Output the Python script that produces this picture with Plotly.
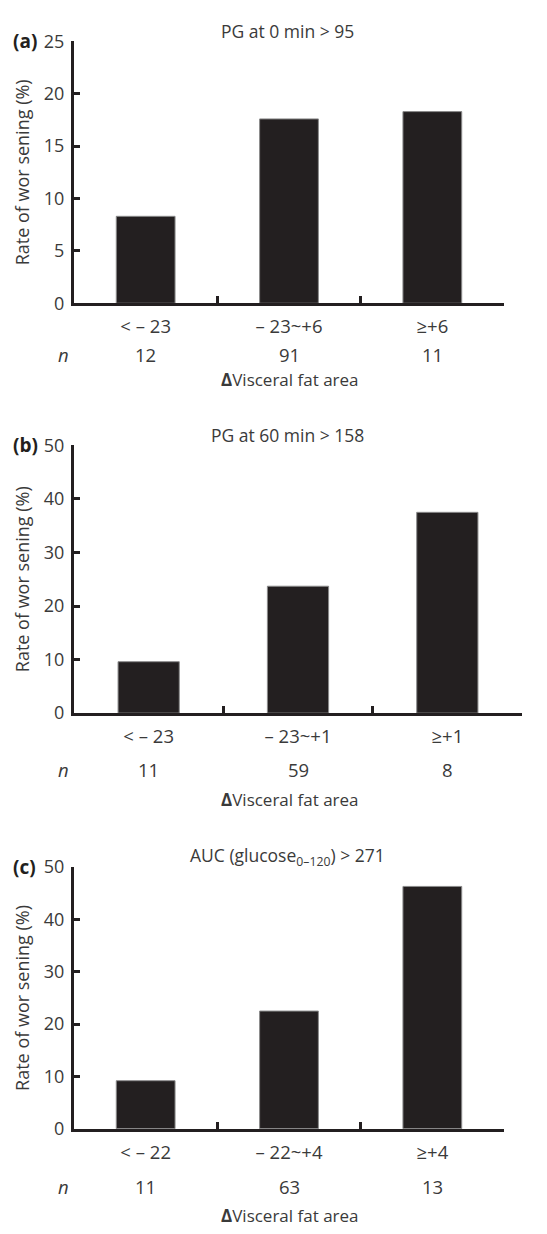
import plotly.graph_objects as go

W, H = 547, 1234

# ---- data ----
titles = ["PG at 0 min > 95", "PG at 60 min > 158", "AUC (glucose<sub>0–120</sub>) > 271"]
panel_labels = ["(a)", "(b)", "(c)"]
cats_a = ["< – 23", "– 23~+6", "≥+6"]
cats_b = ["< – 23", "– 23~+1", "≥+1"]
cats_c = ["< – 22", "– 22~+4", "≥+4"]
vals_a = [8.3, 17.6, 18.3]
vals_b = [9.6, 23.7, 37.5]
vals_c = [9.2, 22.5, 46.3]
n_a = ["12", "91", "11"]
n_b = ["11", "59", "8"]
n_c = ["11", "63", "13"]
ymax = [25, 50, 50]
ytick_step = [5, 10, 10]
ylabel = "Rate of wor sening (%)"
xlabel = "<b>Δ</b>Visceral fat area"

cats = [cats_a, cats_b, cats_c]
vals = [vals_a, vals_b, vals_c]
ns = [n_a, n_b, n_c]

# layout geometry in pixels (top, bottom, left, right)
geom = [(29, 296, 74, 504), (441, 714, 74, 522), (871, 1138, 74, 504)]
# pixel y positions for title, n row, x-title
rows = [(18, 348, 374), (430, 772, 802), (860, 1197, 1226)]

def py(p):
    return 1 - p / H

def px(p):
    return p / W

FONT = "Open Sans"
TXT = "#3a3a3a"
INK = "#231f20"

fig = go.Figure()
annotations = []
layout = {}

for i in range(3):
    sfx = "" if i == 0 else str(i + 1)
    xa, ya = "x" + sfx, "y" + sfx
    fig.add_trace(go.Bar(
        x=cats[i], y=vals[i], xaxis=xa, yaxis=ya,
        width=0.41,
        marker=dict(color=INK, line=dict(color="#8a8a8a", width=1)),
        showlegend=False, hoverinfo="skip",
    ))
    top, bot, left, right = geom[i]
    layout["xaxis" + sfx] = dict(
        domain=[px(left), px(right)], anchor=ya,
        type="category", range=[-0.5, 2.5],
        showline=True, linecolor=INK, linewidth=3,
        ticks="inside", tickson="boundaries", ticklen=7, tickwidth=3, tickcolor=INK,
        tickfont=dict(family=FONT, size=18.5, color=TXT),
        ticklabelstandoff=5,
        showgrid=False, zeroline=False, fixedrange=True,
    )
    layout["yaxis" + sfx] = dict(
        domain=[py(bot), py(top)], anchor=xa,
        range=[0, ymax[i]], tickmode="linear", tick0=0, dtick=ytick_step[i],
        showline=True, linecolor=INK, linewidth=3,
        ticks="inside", ticklen=6, tickwidth=3, tickcolor=INK,
        tickfont=dict(family=FONT, size=18, color=TXT),
        ticklabelstandoff=3,
        showgrid=False, zeroline=False, fixedrange=True,
        title=dict(text=ylabel, font=dict(family=FONT, size=18, color=TXT), standoff=10),
    )
    t_y, n_y, xt_y = rows[i]
    annotations.append(dict(
        text=titles[i], xref="paper", yref="paper", x=px(287), y=py(t_y),
        xanchor="center", yanchor="middle", showarrow=False,
        font=dict(family=FONT, size=17.5, color=TXT),
    ))
    annotations.append(dict(
        text="<b>" + panel_labels[i] + "</b>", xref="paper", yref="paper",
        x=px(11), y=py(top), xanchor="left", yanchor="middle", showarrow=False,
        font=dict(family=FONT, size=19, color=INK),
    ))
    annotations.append(dict(
        text="<i>n</i>", xref="paper", yref="paper", x=px(63), y=py(n_y),
        xanchor="center", yanchor="middle", showarrow=False,
        font=dict(family=FONT, size=18.5, color=TXT),
    ))
    for c, nv in zip(cats[i], ns[i]):
        annotations.append(dict(
            text=nv, xref=xa, yref="paper", x=c, y=py(n_y),
            xanchor="center", yanchor="middle", showarrow=False,
            font=dict(family=FONT, size=18.5, color=TXT),
        ))
    annotations.append(dict(
        text=xlabel, xref="paper", yref="paper", x=px(290), y=py(xt_y),
        xanchor="center", yanchor="middle", showarrow=False,
        font=dict(family=FONT, size=17, color=TXT),
    ))

fig.update_layout(
    width=W, height=H,
    margin=dict(l=0, r=0, t=0, b=0),
    paper_bgcolor="white", plot_bgcolor="white",
    bargap=0.59,
    annotations=annotations,
    **layout,
)

fig.write_html(
    "out.html",
    config={"displayModeBar": False, "staticPlot": True},
    post_script="document.body.style.margin='0';document.body.style.overflow='hidden';",
)
